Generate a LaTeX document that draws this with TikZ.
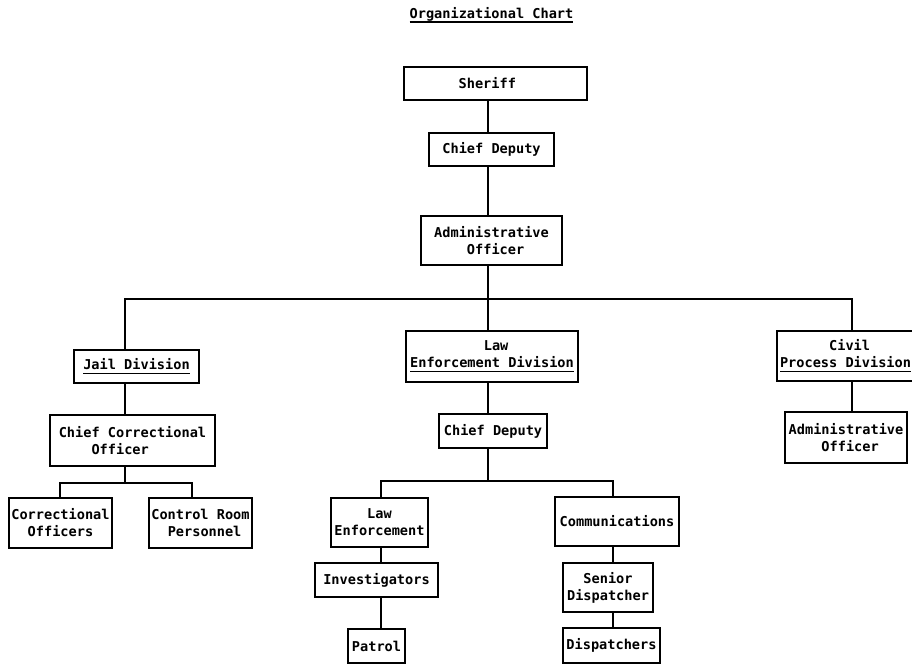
\documentclass[tikz,border=0pt]{standalone}
\usepackage{fontspec}
\setmonofont{DejaVu Sans Mono}
\usetikzlibrary{positioning}
\usetikzlibrary{calc}

\newcommand{\chartul}[1]{\sbox0{#1}\rlap{\rule[-4.6pt]{\wd0}{1.3pt}}\usebox0}

\begin{document}
\begin{tikzpicture}[x=1pt,y=-1pt,line width=1.8pt,
	box/.style={draw,rectangle,inner sep=0pt,align=left,font=\ttfamily\bfseries\fontsize{13.6}{17}\selectfont},
	title/.style={anchor=base,font=\ttfamily\bfseries\fontsize{13.6}{17}\selectfont}]
	\useasboundingbox (0,0) rectangle (912,664);

	% title
	\node[title] (title) at (491.5,18) {\chartul{Organizational Chart}};

	% top of the chart
	\node[box,minimum width=183,minimum height=33] (sheriff) at (495.5,83.5) {Sheriff~~};
	\node[box,minimum width=125,minimum height=33] (chief) at (491.5,149.5) {Chief Deputy};
	\node[box,minimum width=141,minimum height=49] (admin) at (491.5,240.5) {Administrative\\~~~~Officer};

	% divisions
	\node[box,minimum width=125,minimum height=33] (jail) at (136.5,366.5) {\chartul{Jail Division}};
	\node[box,minimum width=172,minimum height=51] (led) at (492,356.5) {~~~~~~~~~Law\\\chartul{Enforcement Division}};
	\node[box,minimum width=137,minimum height=50] (civil) at (845.5,356) {~~~~~~Civil\\\chartul{Process Division}};

	% jail division
	\node[box,minimum width=165,minimum height=51] (cco) at (132.5,440.5) {Chief Correctional\\~~~~Officer};
	\node[box,minimum width=103,minimum height=50] (corroff) at (60.5,523) {Correctional\\~~Officers};
	\node[box,minimum width=103,minimum height=50] (ctrlroom) at (200.5,523) {Control Room\\~~Personnel};

	% law enforcement division
	\node[box,minimum width=108,minimum height=34] (deputy) at (493,431) {Chief Deputy};
	\node[box,minimum width=97,minimum height=49] (lawenf) at (379.5,522.5) {~~~~Law\\Enforcement};
	\node[box,minimum width=124,minimum height=49] (comms) at (617,521.5) {Communications};
	\node[box,minimum width=123,minimum height=34] (invest) at (376.5,580) {Investigators};
	\node[box,minimum width=90,minimum height=49] (senior) at (608,587.5) {~~Senior\\Dispatcher};
	\node[box,minimum width=57,minimum height=34] (patrol) at (376.5,646) {Patrol};
	\node[box,minimum width=97,minimum height=35] (dispatch) at (611.5,645.5) {Dispatchers};

	% civil process division
	\node[box,minimum width=122,minimum height=51] (civadmin) at (846,437.5) {Administrative\\~~~~Officer};

	% bus points
	\coordinate (hub) at (488,299);
	\coordinate (jailbus) at (125,299);
	\coordinate (civbus) at (852,299);
	\coordinate (cobusl) at (60,483);
	\coordinate (cobusr) at (192,483);
	\coordinate (depbusl) at (381,481);
	\coordinate (depbusr) at (613,481);

	% connectors main line
	\foreach \a/\b in {sheriff/chief,chief/admin,admin/led,led/deputy}
		\draw (\a.south -| hub) -- (\b.north -| hub);

	% connectors to the divisions
	\draw (jail.north -| jailbus) -- (jailbus) -- (civbus) -- (civil.north -| civbus);
	\draw (civil.south -| civbus) -- (civadmin.north -| civbus);

	% connectors jail division
	\draw (jail.south -| jailbus) -- (cco.north -| jailbus);
	\draw (cco.south -| jailbus) -- (cobusl -| jailbus);
	\draw (corroff.north -| cobusl) -- (cobusl) -- (cobusr) -- (ctrlroom.north -| cobusr);

	% connectors law enforcement division
	\draw (deputy.south -| hub) -- (depbusl -| hub);
	\draw (lawenf.north -| depbusl) -- (depbusl) -- (depbusr) -- (comms.north -| depbusr);
	\foreach \a/\b in {lawenf/invest,invest/patrol}
		\draw (\a.south -| depbusl) -- (\b.north -| depbusl);
	\foreach \a/\b in {comms/senior,senior/dispatch}
		\draw (\a.south -| depbusr) -- (\b.north -| depbusr);
\end{tikzpicture}
\end{document}
